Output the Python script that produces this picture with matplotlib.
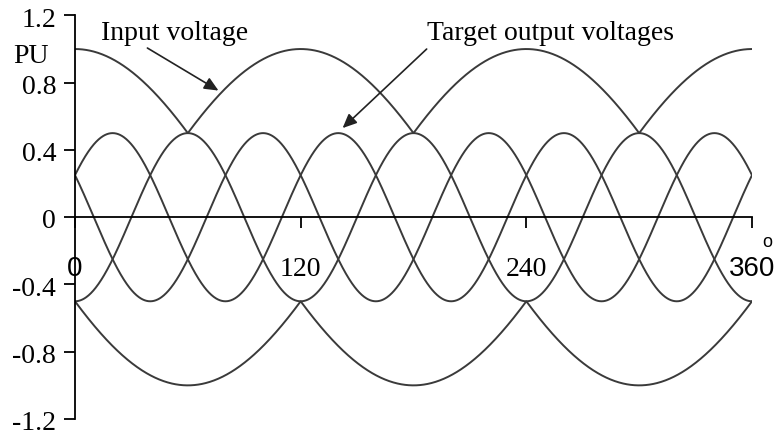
import numpy as np
import matplotlib
matplotlib.use("Agg")
import matplotlib.pyplot as plt

# Waveform parameters (per-unit, angles in degrees)
input_amplitude = 1.0
input_phases = [0, 120, 240]
output_amplitude = 0.5
output_frequency_ratio = 3
output_phases = [60, 180, 300]

y_ticks = [1.2, 0.8, 0.4, 0, -0.4, -0.8, -1.2]
y_tick_labels = ["1.2", "0.8", "0.4", "0", "-0.4", "-0.8", "-1.2"]
x_ticks = [0, 120, 240, 360]
x_tick_labels = ["0", "120", "240", "360"]

serif = ["Liberation Serif", "DejaVu Serif"]
sans = ["Liberation Sans", "DejaVu Sans"]
FS = 20

theta = np.linspace(0, 360, 1441)
rad = np.deg2rad(theta)

phases_in = np.array([input_amplitude * np.cos(rad - np.deg2rad(p)) for p in input_phases])
upper_env = phases_in.max(axis=0)
lower_env = phases_in.min(axis=0)

outputs = [output_amplitude * np.cos(output_frequency_ratio * rad - np.deg2rad(p))
           for p in output_phases]

W, H = 775, 441
fig = plt.figure(figsize=(W / 100, H / 100), dpi=100)
ax = fig.add_axes([75 / W, (H - 419) / H, (752 - 75) / W, (419 - 15.4) / H])

line_kw = dict(color="#3a3a3a", lw=1.4, solid_capstyle="round")
ax.plot(theta, upper_env, **line_kw)
ax.plot(theta, lower_env, **line_kw)
for out in outputs:
    ax.plot(theta, out, **line_kw)

ax.set_xlim(0, 360)
ax.set_ylim(-1.2, 1.2)

ax.spines["top"].set_visible(False)
ax.spines["right"].set_visible(False)
ax.spines["bottom"].set_position(("data", 0))
for s in ("left", "bottom"):
    ax.spines[s].set_color("black")
    ax.spines[s].set_linewidth(1.3)

# y ticks with labels set slightly below each tick
ax.set_yticks(y_ticks)
ax.set_yticklabels([])
ax.tick_params(axis="y", direction="out", length=8, width=1.3)
ytrans = ax.get_yaxis_transform()
for yv, txt in zip(y_ticks, y_tick_labels):
    ax.text(-0.028, yv - 0.028, txt, transform=ytrans, ha="right", va="center",
            fontsize=FS, fontfamily=serif)

ax.set_xticks(x_ticks)
ax.set_xticklabels([])
ax.tick_params(axis="x", direction="out", length=8, width=1.3)

# x tick labels placed below the zero line
y_lab = -0.31
for xv, txt in zip(x_ticks, x_tick_labels):
    fam = sans if txt in ("0", "360") else serif
    ax.text(xv, y_lab, txt, ha="center", va="center", fontsize=FS, fontfamily=fam)
ax.text(368, -0.15, "o", ha="center", va="center", fontsize=13, fontfamily=sans,
        clip_on=False)

ax.text(-0.065, 0.898, "PU", transform=ax.transAxes, ha="center", va="center",
        fontsize=FS, fontfamily=serif)

arrow_kw = dict(arrowstyle="-|>,head_length=0.85,head_width=0.38", color="#222222", lw=1.2,
                shrinkA=0, shrinkB=0)
ax.text(53.2, 1.093, "Input voltage", ha="center", va="center", fontsize=FS,
        fontfamily=serif)
ax.annotate("", xy=(76.3, 0.753), xytext=(38.5, 1.006), arrowprops=arrow_kw)
ax.text(252.6, 1.093, "Target output voltages", ha="center", va="center", fontsize=FS,
        fontfamily=serif)
ax.annotate("", xy=(142.3, 0.53), xytext=(187, 1.0), arrowprops=arrow_kw)

fig.savefig("out.png", dpi=100)
